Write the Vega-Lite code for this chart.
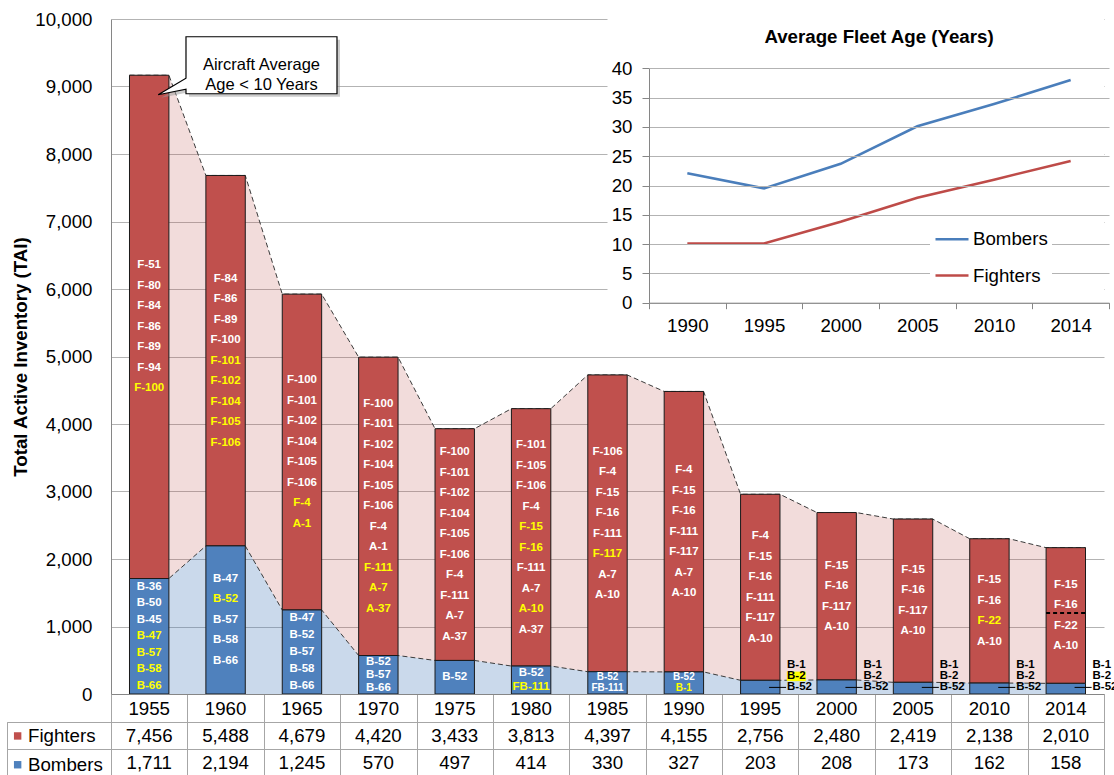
{
  "$schema": "https://vega.github.io/schema/vega-lite/v6.json",
  "width": 993,
  "height": 675,
  "autosize": {"type": "none"},
  "padding": {"left": 111, "top": 19, "right": 10, "bottom": 81},
  "background": "white",
  "config": {"font": "Liberation Sans", "view": {"stroke": null}},
  "datasets": {
    "inventory": [
      {"year": "1955", "Fighters": 7456, "Bombers": 1711},
      {"year": "1960", "Fighters": 5488, "Bombers": 2194},
      {"year": "1965", "Fighters": 4679, "Bombers": 1245},
      {"year": "1970", "Fighters": 4420, "Bombers": 570},
      {"year": "1975", "Fighters": 3433, "Bombers": 497},
      {"year": "1980", "Fighters": 3813, "Bombers": 414},
      {"year": "1985", "Fighters": 4397, "Bombers": 330},
      {"year": "1990", "Fighters": 4155, "Bombers": 327},
      {"year": "1995", "Fighters": 2756, "Bombers": 203},
      {"year": "2000", "Fighters": 2480, "Bombers": 208},
      {"year": "2005", "Fighters": 2419, "Bombers": 173},
      {"year": "2010", "Fighters": 2138, "Bombers": 162},
      {"year": "2014", "Fighters": 2010, "Bombers": 158}
    ],
    "age": [
      {"year": "1990", "fleet": "Bombers", "age": 22.1},
      {"year": "1995", "fleet": "Bombers", "age": 19.5},
      {"year": "2000", "fleet": "Bombers", "age": 23.7},
      {"year": "2005", "fleet": "Bombers", "age": 30.1},
      {"year": "2010", "fleet": "Bombers", "age": 33.9},
      {"year": "2014", "fleet": "Bombers", "age": 38.0},
      {"year": "1990", "fleet": "Fighters", "age": 10.1},
      {"year": "1995", "fleet": "Fighters", "age": 10.1},
      {"year": "2000", "fleet": "Fighters", "age": 13.8},
      {"year": "2005", "fleet": "Fighters", "age": 17.9},
      {"year": "2010", "fleet": "Fighters", "age": 21.0},
      {"year": "2014", "fleet": "Fighters", "age": 24.2}
    ],
    "aircraft": [
      {"year": "1955", "type": "Fighters", "name": "F-51"},
      {"year": "1955", "type": "Fighters", "name": "F-80"},
      {"year": "1955", "type": "Fighters", "name": "F-84"},
      {"year": "1955", "type": "Fighters", "name": "F-86"},
      {"year": "1955", "type": "Fighters", "name": "F-89"},
      {"year": "1955", "type": "Fighters", "name": "F-94"},
      {"year": "1955", "type": "Fighters", "name": "F-100", "status": "new"},
      {"year": "1955", "type": "Bombers", "name": "B-36"},
      {"year": "1955", "type": "Bombers", "name": "B-50"},
      {"year": "1955", "type": "Bombers", "name": "B-45"},
      {"year": "1955", "type": "Bombers", "name": "B-47", "status": "new"},
      {"year": "1955", "type": "Bombers", "name": "B-57", "status": "new"},
      {"year": "1955", "type": "Bombers", "name": "B-58", "status": "new"},
      {"year": "1955", "type": "Bombers", "name": "B-66", "status": "new"},
      {"year": "1960", "type": "Fighters", "name": "F-84"},
      {"year": "1960", "type": "Fighters", "name": "F-86"},
      {"year": "1960", "type": "Fighters", "name": "F-89"},
      {"year": "1960", "type": "Fighters", "name": "F-100"},
      {"year": "1960", "type": "Fighters", "name": "F-101", "status": "new"},
      {"year": "1960", "type": "Fighters", "name": "F-102", "status": "new"},
      {"year": "1960", "type": "Fighters", "name": "F-104", "status": "new"},
      {"year": "1960", "type": "Fighters", "name": "F-105", "status": "new"},
      {"year": "1960", "type": "Fighters", "name": "F-106", "status": "new"},
      {"year": "1960", "type": "Bombers", "name": "B-47"},
      {"year": "1960", "type": "Bombers", "name": "B-52", "status": "new"},
      {"year": "1960", "type": "Bombers", "name": "B-57"},
      {"year": "1960", "type": "Bombers", "name": "B-58"},
      {"year": "1960", "type": "Bombers", "name": "B-66"},
      {"year": "1965", "type": "Fighters", "name": "F-100"},
      {"year": "1965", "type": "Fighters", "name": "F-101"},
      {"year": "1965", "type": "Fighters", "name": "F-102"},
      {"year": "1965", "type": "Fighters", "name": "F-104"},
      {"year": "1965", "type": "Fighters", "name": "F-105"},
      {"year": "1965", "type": "Fighters", "name": "F-106"},
      {"year": "1965", "type": "Fighters", "name": "F-4", "status": "new"},
      {"year": "1965", "type": "Fighters", "name": "A-1", "status": "new"},
      {"year": "1965", "type": "Bombers", "name": "B-47"},
      {"year": "1965", "type": "Bombers", "name": "B-52"},
      {"year": "1965", "type": "Bombers", "name": "B-57"},
      {"year": "1965", "type": "Bombers", "name": "B-58"},
      {"year": "1965", "type": "Bombers", "name": "B-66"},
      {"year": "1970", "type": "Fighters", "name": "F-100"},
      {"year": "1970", "type": "Fighters", "name": "F-101"},
      {"year": "1970", "type": "Fighters", "name": "F-102"},
      {"year": "1970", "type": "Fighters", "name": "F-104"},
      {"year": "1970", "type": "Fighters", "name": "F-105"},
      {"year": "1970", "type": "Fighters", "name": "F-106"},
      {"year": "1970", "type": "Fighters", "name": "F-4"},
      {"year": "1970", "type": "Fighters", "name": "A-1"},
      {"year": "1970", "type": "Fighters", "name": "F-111", "status": "new"},
      {"year": "1970", "type": "Fighters", "name": "A-7", "status": "new"},
      {"year": "1970", "type": "Fighters", "name": "A-37", "status": "new"},
      {"year": "1970", "type": "Bombers", "name": "B-52"},
      {"year": "1970", "type": "Bombers", "name": "B-57"},
      {"year": "1970", "type": "Bombers", "name": "B-66"},
      {"year": "1975", "type": "Fighters", "name": "F-100"},
      {"year": "1975", "type": "Fighters", "name": "F-101"},
      {"year": "1975", "type": "Fighters", "name": "F-102"},
      {"year": "1975", "type": "Fighters", "name": "F-104"},
      {"year": "1975", "type": "Fighters", "name": "F-105"},
      {"year": "1975", "type": "Fighters", "name": "F-106"},
      {"year": "1975", "type": "Fighters", "name": "F-4"},
      {"year": "1975", "type": "Fighters", "name": "F-111"},
      {"year": "1975", "type": "Fighters", "name": "A-7"},
      {"year": "1975", "type": "Fighters", "name": "A-37"},
      {"year": "1975", "type": "Bombers", "name": "B-52"},
      {"year": "1980", "type": "Fighters", "name": "F-101"},
      {"year": "1980", "type": "Fighters", "name": "F-105"},
      {"year": "1980", "type": "Fighters", "name": "F-106"},
      {"year": "1980", "type": "Fighters", "name": "F-4"},
      {"year": "1980", "type": "Fighters", "name": "F-15", "status": "new"},
      {"year": "1980", "type": "Fighters", "name": "F-16", "status": "new"},
      {"year": "1980", "type": "Fighters", "name": "F-111"},
      {"year": "1980", "type": "Fighters", "name": "A-7"},
      {"year": "1980", "type": "Fighters", "name": "A-10", "status": "new"},
      {"year": "1980", "type": "Fighters", "name": "A-37"},
      {"year": "1980", "type": "Bombers", "name": "B-52"},
      {"year": "1980", "type": "Bombers", "name": "FB-111", "status": "new"},
      {"year": "1985", "type": "Fighters", "name": "F-106"},
      {"year": "1985", "type": "Fighters", "name": "F-4"},
      {"year": "1985", "type": "Fighters", "name": "F-15"},
      {"year": "1985", "type": "Fighters", "name": "F-16"},
      {"year": "1985", "type": "Fighters", "name": "F-111"},
      {"year": "1985", "type": "Fighters", "name": "F-117", "status": "new"},
      {"year": "1985", "type": "Fighters", "name": "A-7"},
      {"year": "1985", "type": "Fighters", "name": "A-10"},
      {"year": "1985", "type": "Bombers", "name": "B-52"},
      {"year": "1985", "type": "Bombers", "name": "FB-111"},
      {"year": "1990", "type": "Fighters", "name": "F-4"},
      {"year": "1990", "type": "Fighters", "name": "F-15"},
      {"year": "1990", "type": "Fighters", "name": "F-16"},
      {"year": "1990", "type": "Fighters", "name": "F-111"},
      {"year": "1990", "type": "Fighters", "name": "F-117"},
      {"year": "1990", "type": "Fighters", "name": "A-7"},
      {"year": "1990", "type": "Fighters", "name": "A-10"},
      {"year": "1990", "type": "Bombers", "name": "B-52"},
      {"year": "1990", "type": "Bombers", "name": "B-1", "status": "new"},
      {"year": "1995", "type": "Fighters", "name": "F-4"},
      {"year": "1995", "type": "Fighters", "name": "F-15"},
      {"year": "1995", "type": "Fighters", "name": "F-16"},
      {"year": "1995", "type": "Fighters", "name": "F-111"},
      {"year": "1995", "type": "Fighters", "name": "F-117"},
      {"year": "1995", "type": "Fighters", "name": "A-10"},
      {"year": "1995", "type": "Bombers", "name": "B-1"},
      {"year": "1995", "type": "Bombers", "name": "B-2", "status": "new"},
      {"year": "1995", "type": "Bombers", "name": "B-52"},
      {"year": "2000", "type": "Fighters", "name": "F-15"},
      {"year": "2000", "type": "Fighters", "name": "F-16"},
      {"year": "2000", "type": "Fighters", "name": "F-117"},
      {"year": "2000", "type": "Fighters", "name": "A-10"},
      {"year": "2000", "type": "Bombers", "name": "B-1"},
      {"year": "2000", "type": "Bombers", "name": "B-2"},
      {"year": "2000", "type": "Bombers", "name": "B-52"},
      {"year": "2005", "type": "Fighters", "name": "F-15"},
      {"year": "2005", "type": "Fighters", "name": "F-16"},
      {"year": "2005", "type": "Fighters", "name": "F-117"},
      {"year": "2005", "type": "Fighters", "name": "A-10"},
      {"year": "2005", "type": "Bombers", "name": "B-1"},
      {"year": "2005", "type": "Bombers", "name": "B-2"},
      {"year": "2005", "type": "Bombers", "name": "B-52"},
      {"year": "2010", "type": "Fighters", "name": "F-15"},
      {"year": "2010", "type": "Fighters", "name": "F-16"},
      {"year": "2010", "type": "Fighters", "name": "F-22", "status": "new"},
      {"year": "2010", "type": "Fighters", "name": "A-10"},
      {"year": "2010", "type": "Bombers", "name": "B-1"},
      {"year": "2010", "type": "Bombers", "name": "B-2"},
      {"year": "2010", "type": "Bombers", "name": "B-52"},
      {"year": "2014", "type": "Fighters", "name": "F-15"},
      {"year": "2014", "type": "Fighters", "name": "F-16"},
      {"year": "2014", "type": "Fighters", "name": "F-22"},
      {"year": "2014", "type": "Fighters", "name": "A-10"},
      {"year": "2014", "type": "Bombers", "name": "B-1"},
      {"year": "2014", "type": "Bombers", "name": "B-2"},
      {"year": "2014", "type": "Bombers", "name": "B-52"}
    ]
  },
  "layer": [
    {
      "layer": [
        {
          "layer": [
            {
              "data": {"values": [{}]},
              "mark": {"type": "rect", "color": "white"},
              "encoding": {
                "x": {"datum": "1985", "type": "ordinal", "bandPosition": 0.5},
                "x2": {"datum": "2014", "bandPosition": 1},
                "y": {"datum": 10300, "type": "quantitative"},
                "y2": {"datum": 5260}
              }
            },
            {
              "data": {"name": "inventory"},
              "transform": [
                {"fold": ["Bombers", "Fighters"], "as": ["edge", "v"]},
                {"joinaggregate": [{"op": "sum", "field": "v", "as": "total"}], "groupby": ["year"]}
              ],
              "encoding": {
                "x": {"field": "year", "type": "ordinal", "title": null},
                "xOffset": {"field": "edge", "type": "nominal", "scale": {"type": "point", "domain": ["Bombers", "Fighters"], "padding": 0.4695}}
              },
              "layer": [
                {"mark": {"type": "area", "color": "#C0504D", "opacity": 0.2},
                 "encoding": {"y": {"field": "total", "type": "quantitative", "title": "Total Active Inventory (TAI)"}, "y2": {"field": "Bombers"}}},
                {"mark": {"type": "area", "color": "#4F81BD", "opacity": 0.3},
                 "encoding": {"y": {"field": "Bombers", "type": "quantitative", "title": "Total Active Inventory (TAI)"}}},
                {"mark": {"type": "line", "color": "#3a3a3a", "strokeDash": [5, 3], "strokeWidth": 1},
                 "encoding": {"y": {"field": "total", "type": "quantitative", "title": "Total Active Inventory (TAI)"}}},
                {"mark": {"type": "line", "color": "#3a3a3a", "strokeDash": [5, 3], "strokeWidth": 1},
                 "encoding": {"y": {"field": "Bombers", "type": "quantitative", "title": "Total Active Inventory (TAI)"}}}
              ]
            },
            {
              "data": {"name": "inventory"},
              "transform": [{"fold": ["Fighters", "Bombers"], "as": ["type", "count"]}],
              "mark": {"type": "bar", "width": 39.4, "stroke": "#1a1a1a", "strokeWidth": 1},
              "encoding": {
                "x": {
                  "field": "year", "type": "ordinal", "title": null,
                  "scale": {"type": "band", "domain": ["1955", "1960", "1965", "1970", "1975", "1980", "1985", "1990", "1995", "2000", "2005", "2010", "2014"], "paddingInner": 0, "paddingOuter": 0},
                  "axis": {"orient": "bottom", "tickBand": "extent", "tickSize": 83, "tickColor": "#A6A6A6", "domainColor": "#868686", "labels": false, "grid": false}
                },
                "y": {
                  "field": "count", "type": "quantitative", "stack": "zero", "title": "Total Active Inventory (TAI)",
                  "scale": {"domain": [0, 10000], "nice": false},
                  "axis": {"orient": "left", "values": [0, 1000, 2000, 3000, 4000, 5000, 6000, 7000, 8000, 9000, 10000], "format": ",.0f", "ticks": false, "labelFontSize": 18.7, "labelColor": "#000000", "labelPadding": 19, "domainColor": "#868686", "grid": true, "gridColor": "#B3B3B3", "titleFontSize": 18.7, "titleFontWeight": "bold", "titleColor": "#000000", "titlePadding": 4}
                },
                "color": {
                  "field": "type", "type": "nominal",
                  "scale": {"domain": ["Fighters", "Bombers"], "range": ["#C0504D", "#4F81BD"]},
                  "legend": {"orient": "none", "legendX": -102.7, "legendY": 707.6, "title": null, "symbolType": "square", "symbolSize": 55, "symbolStrokeWidth": 0, "labelFontSize": 18.7, "labelColor": "#000000", "labelOffset": 1, "rowPadding": 8.8, "padding": 0}
                },
                "order": {"field": "type", "sort": "ascending"}
              }
            },
            {
              "data": {"name": "inventory"},
              "mark": {"type": "text", "fontSize": 18.7, "color": "#000000", "align": "center", "baseline": "middle", "dy": 14.5},
              "encoding": {
                "x": {"field": "year", "type": "ordinal", "title": null},
                "y": {"datum": 0, "type": "quantitative"},
                "text": {"field": "year"}
              }
            },
            {
              "data": {"values": [{}]},
              "mark": {"type": "rule", "color": "#000000", "strokeDash": [4, 3], "strokeWidth": 2},
              "encoding": {
                "x": {"datum": "2014", "type": "ordinal", "bandPosition": 0.242},
                "x2": {"datum": "2014", "bandPosition": 0.758},
                "y": {"datum": 1200, "type": "quantitative"}
              }
            },
            {
              "data": {"name": "aircraft"},
              "transform": [
                {"lookup": "year", "from": {"data": {"name": "inventory"}, "key": "year", "fields": ["Fighters", "Bombers"]}},
                {"window": [{"op": "row_number", "as": "rank"}], "groupby": ["year", "type"]},
                {"joinaggregate": [{"op": "count", "as": "n"}], "groupby": ["year", "type"]},
                {"calculate": "datum.type == 'Fighters' ? 20.5 : (toNumber(datum.year) < 1995 ? clamp(datum.Bombers * 0.0675 / datum.n, 10, 20.5) : 11)", "as": "step"},
                {"calculate": "datum.type == 'Fighters' ? datum.Bombers + datum.Fighters / 2 + ((datum.n + 1) / 2 - datum.rank) * datum.step / 0.0675 : (toNumber(datum.year) < 1995 ? datum.Bombers / 2 + ((datum.n + 1) / 2 - datum.rank) * datum.step / 0.0675 : ((datum.n - datum.rank) * datum.step + 6.6) / 0.0675)", "as": "ypos"},
                {"calculate": "datum.type == 'Fighters' || toNumber(datum.year) < 1995", "as": "inside"}
              ],
              "layer": [
                {
                  "transform": [{"filter": "datum.inside"}],
                  "mark": {"type": "text", "fontWeight": "bold", "align": "center", "baseline": "middle"},
                  "encoding": {
                    "x": {"field": "year", "type": "ordinal", "title": null},
                    "y": {"field": "ypos", "type": "quantitative", "title": "Total Active Inventory (TAI)"},
                    "text": {"field": "name"},
                    "size": {"condition": {"test": "datum.step < 12", "value": 10}, "value": 11.5},
                    "color": {"condition": {"test": "datum.status === 'new'", "value": "#FFFF00"}, "value": "#FFFFFF"}
                  }
                },
                {
                  "transform": [{"filter": "!datum.inside && datum.status === 'new'"}],
                  "mark": {"type": "point", "shape": "M-1,-0.5H1V0.5H-1Z", "size": 361, "filled": true, "color": "#FFFF00", "opacity": 1, "xOffset": 9.3},
                  "encoding": {
                    "x": {"field": "year", "type": "ordinal", "title": null, "bandPosition": 0.85},
                    "y": {"field": "ypos", "type": "quantitative", "title": "Total Active Inventory (TAI)"}
                  }
                },
                {
                  "transform": [{"filter": "!datum.inside && datum.rank == datum.n"}],
                  "mark": {"type": "rule", "color": "#000000", "strokeWidth": 1},
                  "encoding": {
                    "x": {"field": "year", "type": "ordinal", "title": null, "bandPosition": 0.615},
                    "x2": {"field": "year", "bandPosition": 0.838},
                    "y": {"field": "ypos", "type": "quantitative", "title": "Total Active Inventory (TAI)"}
                  }
                },
                {
                  "transform": [{"filter": "!datum.inside"}],
                  "mark": {"type": "text", "fontWeight": "bold", "fontSize": 11.5, "align": "left", "baseline": "middle", "color": "#000000"},
                  "encoding": {
                    "x": {"field": "year", "type": "ordinal", "title": null, "bandPosition": 0.85},
                    "y": {"field": "ypos", "type": "quantitative", "title": "Total Active Inventory (TAI)"},
                    "text": {"field": "name"}
                  }
                }
              ]
            },
            {
              "data": {"name": "inventory"},
              "transform": [
                {"filter": "datum.year == '1955'"},
                {"calculate": "datum.Fighters + datum.Bombers", "as": "total"}
              ],
              "encoding": {
                "x": {"field": "year", "type": "ordinal", "title": null},
                "y": {"field": "total", "type": "quantitative", "title": "Total Active Inventory (TAI)"}
              },
              "layer": [
                {"mark": {"type": "point", "shape": "M0.368,-0.385L1.878,-0.385L1.878,0.185L0.368,0.185L0.368,0.14L0.09,0.195L0.368,0.03Z", "size": 40000, "filled": true, "color": "#9a9a9a", "opacity": 0.5, "xOffset": 3, "yOffset": 3}},
                {"mark": {"type": "point", "shape": "M0.368,-0.385L1.878,-0.385L1.878,0.185L0.368,0.185L0.368,0.14L0.09,0.195L0.368,0.03Z", "size": 40000, "filled": true, "fill": "#FFFFFF", "stroke": "#000000", "strokeWidth": 1.2, "opacity": 1}},
                {"mark": {"type": "text", "text": "Aircraft Average\nAge < 10 Years", "lineBreak": "\n", "lineHeight": 20, "fontSize": 16.5, "color": "#000000", "align": "center", "baseline": "middle", "dx": 112.3, "dy": -10.5}}
              ]
            }
          ]
        },
        {
          "data": {"name": "inventory"},
          "transform": [{"fold": ["Fighters", "Bombers"], "as": ["type", "count"]}],
          "mark": {"type": "text", "fontSize": 18.7, "color": "#000000", "baseline": "middle"},
          "encoding": {
            "x": {"field": "year", "type": "ordinal", "title": null},
            "y": {
              "field": "type", "type": "nominal", "title": null,
              "scale": {"type": "band", "domain": ["Fighters", "Bombers"], "range": [702.7, 758], "paddingInner": 0, "paddingOuter": 0},
              "axis": {"orient": "left", "offset": 104, "labels": false, "tickBand": "extent", "tickSize": -104, "tickColor": "#A6A6A6", "domainColor": "#A6A6A6", "grid": true, "gridColor": "#A6A6A6"}
            },
            "text": {"field": "count", "type": "quantitative", "format": ","}
          }
        }
      ],
      "resolve": {"scale": {"y": "independent"}, "axis": {"y": "independent"}}
    },
    {
      "data": {"name": "age"},
      "layer": [
        {
          "mark": {"type": "line", "strokeWidth": 2.6},
          "encoding": {
            "x": {
              "field": "year", "type": "ordinal", "title": null,
              "scale": {"type": "band", "domain": ["1990", "1995", "2000", "2005", "2010", "2014"], "range": [538, 998], "paddingInner": 0, "paddingOuter": 0},
              "axis": {"orient": "bottom", "offset": -391.3, "zindex": 1, "tickBand": "extent", "tickSize": 6, "tickColor": "#868686", "domainColor": "#868686", "labelFontSize": 18.7, "labelColor": "#000000", "labelPadding": 8, "labelAngle": 0, "grid": false}
            },
            "y": {
              "field": "age", "type": "quantitative", "title": null,
              "scale": {"domain": [0, 40], "range": [283.7, 49.3], "nice": false},
              "axis": {"orient": "left", "offset": -538, "zindex": 1, "values": [0, 5, 10, 15, 20, 25, 30, 35, 40], "tickSize": 7, "tickColor": "#868686", "domainColor": "#868686", "grid": true, "gridColor": "#B3B3B3", "labelFontSize": 18.7, "labelColor": "#000000", "labelPadding": 10}
            },
            "color": {
              "field": "fleet", "type": "nominal",
              "scale": {"domain": ["Bombers", "Fighters"], "range": ["#4A7EBB", "#BE4B48"]},
              "legend": {"orient": "none", "legendX": 819, "legendY": 198.2, "zindex": 2, "title": null, "fillColor": "#FFFFFF", "padding": 4, "symbolType": "stroke", "symbolSize": 1089, "symbolStrokeWidth": 2.6, "labelFontSize": 18.7, "labelColor": "#000000", "labelOffset": 3, "rowPadding": 8.3}
            }
          }
        },
        {
          "data": {"values": [{}]},
          "mark": {"type": "text", "text": "Average Fleet Age (Years)", "fontWeight": "bold", "fontSize": 18.7, "color": "#000000", "align": "center", "baseline": "middle", "dy": -31},
          "encoding": {
            "x": {"datum": "2000", "type": "ordinal", "bandPosition": 1},
            "y": {"datum": 40, "type": "quantitative"}
          }
        }
      ]
    }
  ],
  "resolve": {
    "scale": {"x": "independent", "y": "independent", "color": "independent"},
    "axis": {"x": "independent", "y": "independent"},
    "legend": {"color": "independent"}
  }
}
